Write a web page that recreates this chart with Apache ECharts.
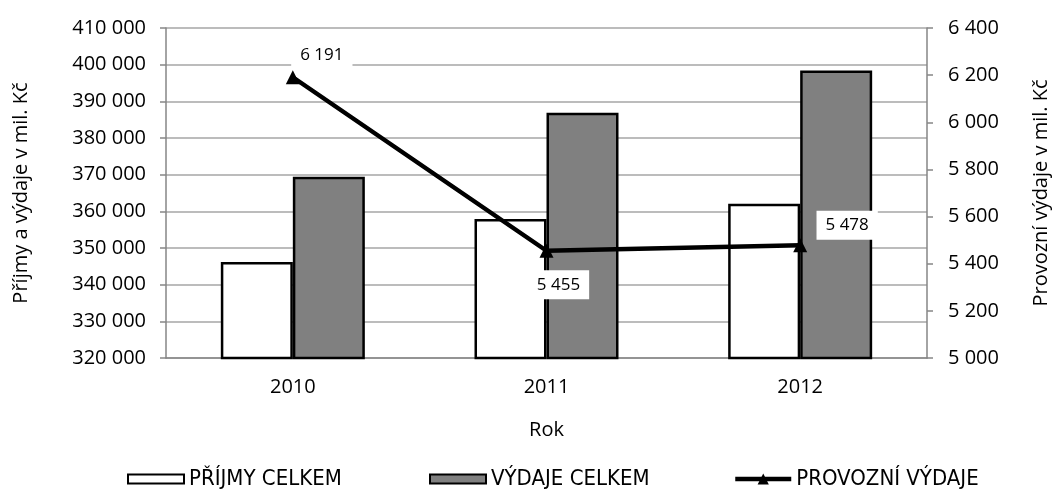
<!DOCTYPE html>
<html><head><meta charset="utf-8">
<script src="https://cdn.jsdelivr.net/npm/echarts@6/dist/echarts.min.js"></script>
<style>html,body{margin:0;padding:0;background:#fff}#c{width:1059px;height:489px}</style>
</head><body><div id="c"></div>
<script>
const categories = ['2010', '2011', '2012'];
const prijmy = [346200, 357900, 362100];
const vydaje = [369400, 386900, 398400];
const provozni = [6191, 5455, 5478];

const fmt = v => String(v).replace(/\B(?=(\d{3})+(?!\d))/g, ' ');
const font = 'Open Sans';
const legendFont = "'DejaVu Sans Condensed', 'Liberation Sans Narrow', 'DejaVu Sans', sans-serif";
const labelOffsets = [[29, -22], [12, 34], [47, -20]];

const chart = echarts.init(document.getElementById('c'), null, {renderer: 'canvas'});
chart.setOption({
  animation: false,
  grid: {left: 166, right: 123, top: 28, bottom: 131},
  xAxis: {
    type: 'category', data: categories,
    name: 'Rok', nameLocation: 'middle', nameGap: 62,
    nameTextStyle: {fontFamily: font, fontSize: 20, color: '#000'},
    axisLine: {lineStyle: {color: '#868686', width: 1.5}},
    axisTick: {show: false},
    axisLabel: {fontFamily: font, fontSize: 20, color: '#000', margin: 19}
  },
  yAxis: [{
    type: 'value', min: 320000, max: 410000, interval: 10000,
    name: 'Příjmy a výdaje v mil. Kč', nameLocation: 'middle', nameGap: 135, nameRotate: 90,
    nameTextStyle: {fontFamily: font, fontSize: 20, color: '#000'},
    axisLine: {show: true, lineStyle: {color: '#868686', width: 1.5}},
    axisTick: {show: true, length: 6, lineStyle: {color: '#868686', width: 1.5}},
    axisLabel: {fontFamily: font, fontSize: 20, color: '#000', margin: 20, formatter: fmt},
    splitLine: {lineStyle: {color: '#a6a6a6', width: 1.5}}
  }, {
    type: 'value', min: 5000, max: 6400, interval: 200,
    name: 'Provozní výdaje v mil. Kč', nameLocation: 'middle', nameGap: 104, nameRotate: 90,
    nameTextStyle: {fontFamily: font, fontSize: 20, color: '#000'},
    axisLine: {show: true, lineStyle: {color: '#868686', width: 1.5}},
    axisTick: {show: true, length: 6, lineStyle: {color: '#868686', width: 1.5}},
    axisLabel: {fontFamily: font, fontSize: 20, color: '#000', margin: 21, formatter: fmt},
    splitLine: {show: false}
  }],
  legend: [
    {left: 127, data: ['PŘÍJMY CELKEM'], icon: 'rect'},
    {left: 429, data: ['VÝDAJE CELKEM'], icon: 'rect'},
    {left: 733, data: ['PROVOZNÍ VÝDAJE'], itemHeight: 14, lineStyle: {width: 4.5}}
  ].map(l => Object.assign({
    top: 468, padding: 0,
    itemWidth: 56, itemHeight: 9, itemGap: 0,
    textStyle: {fontFamily: legendFont, fontSize: 22, color: '#000'}
  }, l)),
  series: [{
    name: 'PŘÍJMY CELKEM', type: 'bar', data: prijmy,
    barWidth: 72, barGap: '0%',
    itemStyle: {color: '#fff', borderColor: '#000', borderWidth: 2.5}
  }, {
    name: 'VÝDAJE CELKEM', type: 'bar', data: vydaje,
    barWidth: 72, barGap: '0%',
    itemStyle: {color: '#808080', borderColor: '#000', borderWidth: 2.5}
  }, {
    name: 'PROVOZNÍ VÝDAJE', type: 'line', yAxisIndex: 1,
    data: provozni.map((v, i) => ({
      value: v,
      label: {offset: labelOffsets[i]}
    })),
    symbol: 'triangle', symbolSize: 14,
    lineStyle: {color: '#000', width: 4.5},
    itemStyle: {color: '#000'},
    label: {
      show: true, position: 'inside', formatter: p => fmt(p.value),
      fontFamily: font, fontSize: 17, color: '#000',
      backgroundColor: '#fff', padding: [6, 9]
    }
  }]
});
</script></body></html>
